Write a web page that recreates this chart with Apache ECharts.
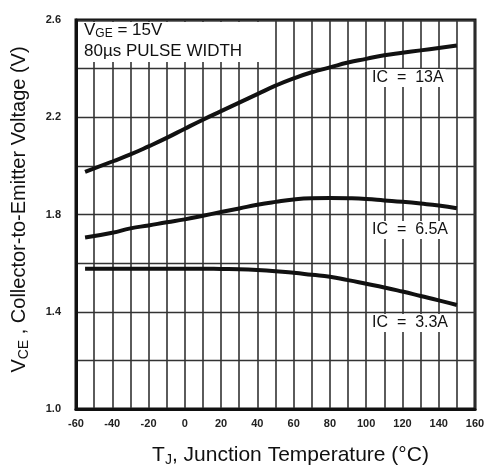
<!DOCTYPE html>
<html>
<head>
<meta charset="utf-8">
<script src="https://cdn.jsdelivr.net/npm/echarts@6/dist/echarts.min.js"></script>
<style>
  html, body { margin: 0; padding: 0; background: #fff; }
  #chart { width: 494px; height: 472px; }
</style>
</head>
<body>
<div id="chart"></div>
<script>
// Tj (°C) sample points
var temps = [-55, -40, -30, -20, -10, 0, 10, 20, 30, 40, 50, 60, 70, 80, 90, 100, 110, 120, 130, 140, 150];
// VCE (V) per collector current
var vce13A = [1.975, 2.018, 2.047, 2.08, 2.115, 2.153, 2.19, 2.225, 2.26, 2.295, 2.33, 2.36, 2.385, 2.405, 2.425, 2.44, 2.455, 2.465, 2.475, 2.485, 2.495];
var vce65A = [1.705, 1.725, 1.743, 1.755, 1.768, 1.78, 1.795, 1.81, 1.825, 1.84, 1.852, 1.862, 1.867, 1.868, 1.867, 1.864, 1.858, 1.852, 1.845, 1.837, 1.826];
var vce33A = [1.577, 1.577, 1.577, 1.577, 1.577, 1.577, 1.577, 1.576, 1.575, 1.572, 1.567, 1.56, 1.552, 1.544, 1.53, 1.515, 1.50, 1.483, 1.465, 1.447, 1.428];

var xLabels = [-60, -40, -20, 0, 20, 40, 60, 80, 100, 120, 140, 160];
var yLabels = ['1.0', '1.4', '1.8', '2.2', '2.6'];

var FONT = '"Liberation Sans", Arial, sans-serif';

function pairs(vals) {
  return temps.map(function (t, i) { return [t, vals[i]]; });
}

function curve(name, vals) {
  return {
    name: name,
    type: 'line',
    data: pairs(vals),
    smooth: true,
    symbol: 'none',
    lineStyle: { color: '#111', width: 4 },
    z: 5
  };
}

var myChart = echarts.init(document.getElementById('chart'));
var option = {
  backgroundColor: '#fff',
  animation: false,
  grid: {
    left: 76, right: 19, top: 20, bottom: 60,
    show: true, borderColor: '#111', borderWidth: 3
  },
  xAxis: {
    type: 'value', min: -60, max: 160, interval: 10,
    axisLine: { show: true, onZero: false, lineStyle: { color: '#111', width: 3 } },
    axisTick: { show: false },
    splitLine: { show: true, lineStyle: { color: '#333', width: 1.6 } },
    axisLabel: {
      color: '#222', fontSize: 11, fontWeight: 'bold', fontFamily: FONT, margin: 9,
      formatter: function (v) { return xLabels.indexOf(v) >= 0 ? String(v) : ''; }
    },
    name: '{a|T}{s|J}{a|, Junction Temperature (°C)}',
    nameLocation: 'middle', nameGap: 34,
    nameTextStyle: {
      padding: [0, 0, 0, 30],
      rich: {
        a: { fontSize: 21, fontFamily: FONT, color: '#111' },
        s: { fontSize: 14, fontFamily: FONT, color: '#111', verticalAlign: 'bottom', padding: [10, 0, 0, 0] }
      }
    }
  },
  yAxis: {
    type: 'value', min: 1.0, max: 2.6, interval: 0.2,
    axisLine: { show: true, onZero: false, lineStyle: { color: '#111', width: 3 } },
    axisTick: { show: false },
    splitLine: { show: true, lineStyle: { color: '#333', width: 1.4 } },
    axisLabel: {
      color: '#222', fontSize: 11, fontWeight: 'bold', fontFamily: FONT, margin: 15,
      formatter: function (v) {
        var s = v.toFixed(1);
        return yLabels.indexOf(s) >= 0 ? s : '';
      }
    },
    name: '{a|V}{s|CE}{a| , Collector-to-Emitter Voltage (V)}',
    nameLocation: 'middle', nameGap: 45, nameRotate: 90,
    nameTextStyle: {
      padding: [0, 0, 0, 10],
      rich: {
        a: { fontSize: 20, fontFamily: FONT, color: '#111' },
        s: { fontSize: 14, fontFamily: FONT, color: '#111', verticalAlign: 'bottom', padding: [10, 0, 0, 0] }
      }
    }
  },
  series: [
    curve('IC = 13A', vce13A),
    curve('IC = 6.5A', vce65A),
    curve('IC = 3.3A', vce33A)
  ],
  graphic: [
    { type: 'rect', z: 20, shape: { x: 78, y: 22, width: 183, height: 40 }, style: { fill: '#fff' } },
    {
      type: 'text', z: 21, left: 84, top: 22,
      style: {
        text: '{a|V}{s|GE}{a| = 15V}',
        rich: {
          a: { fontSize: 17, fontFamily: FONT, fill: '#111' },
          s: { fontSize: 12, fontFamily: FONT, fill: '#111', verticalAlign: 'bottom', padding: [6, 0, 0, 0] }
        }
      }
    },
    {
      type: 'text', z: 21, left: 84, top: 43,
      style: { text: '80µs PULSE WIDTH', fontSize: 17, fontFamily: FONT, fill: '#111' }
    },
    {
      type: 'text', z: 21, left: 370, top: 69,
      style: {
        text: 'IC  =  13A', fontSize: 16, fontFamily: FONT, fill: '#111',
        backgroundColor: '#fff', padding: [1, 2, 1, 2]
      }
    },
    {
      type: 'text', z: 21, left: 370, top: 221,
      style: {
        text: 'IC  =  6.5A', fontSize: 16, fontFamily: FONT, fill: '#111',
        backgroundColor: '#fff', padding: [1, 2, 1, 2]
      }
    },
    {
      type: 'text', z: 21, left: 370, top: 314,
      style: {
        text: 'IC  =  3.3A', fontSize: 16, fontFamily: FONT, fill: '#111',
        backgroundColor: '#fff', padding: [1, 2, 1, 2]
      }
    }
  ]
};
myChart.setOption(option);
</script>
</body>
</html>
